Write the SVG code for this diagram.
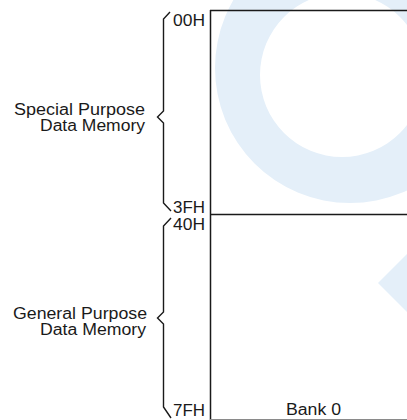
<svg xmlns="http://www.w3.org/2000/svg" width="407" height="420" viewBox="0 0 407 420">
<style>
.t{font-family:"Liberation Sans",Arial,sans-serif;font-size:16px;fill:#1a1a1a}
.ln{stroke:#1a1a1a;stroke-width:1.5;fill:none}
.br{stroke:#1a1a1a;stroke-width:1.4;fill:none;stroke-linejoin:miter}
.wm{fill:#e4eff9}
</style>
<rect x="0" y="0" width="407" height="420" fill="#ffffff"/>
<g id="watermark">
<path class="wm" fill-rule="evenodd" d="M485,68 A135,135 0 1,1 215,68 A135,135 0 1,1 485,68 Z M424,75 A82,82 0 1,0 260,75 A82,82 0 1,0 424,75 Z"/>
<polygon class="wm" points="378,283 407,254 407,312"/>
</g>
<g id="bank0">
<line class="ln" x1="210.5" y1="10" x2="210.5" y2="420"/>
<line class="ln" x1="210" y1="10.5" x2="407" y2="10.5"/>
<line x1="210" y1="419.5" x2="407" y2="419.5" stroke="#8a8a8a" stroke-width="1"/>
<text class="t" x="286" y="415" textLength="55" lengthAdjust="spacingAndGlyphs">Bank 0</text>
</g>
<g id="sfr">
<line class="ln" x1="210" y1="214.5" x2="407" y2="214.5"/>
<text class="t" x="14" y="115" textLength="131" lengthAdjust="spacingAndGlyphs">Special Purpose</text>
<text class="t" x="40" y="131" textLength="105" lengthAdjust="spacingAndGlyphs">Data Memory</text>
</g>
<g id="gpr">
<text class="t" x="13" y="319" textLength="134" lengthAdjust="spacingAndGlyphs">General Purpose</text>
<text class="t" x="40" y="335" textLength="106" lengthAdjust="spacingAndGlyphs">Data Memory</text>
</g>
<g id="addresses">
<text class="t" x="173" y="26" textLength="32" lengthAdjust="spacingAndGlyphs">00H</text>
<text class="t" x="173" y="212.5" textLength="32" lengthAdjust="spacingAndGlyphs">3FH</text>
<text class="t" x="173" y="229.5" textLength="32" lengthAdjust="spacingAndGlyphs">40H</text>
<text class="t" x="173" y="416" textLength="32" lengthAdjust="spacingAndGlyphs">7FH</text>
</g>
<g id="connectors">
<path class="br" d="M170,12 L163.5,19 L163.5,111 L157.5,117 L163.5,123 L163.5,203 L171,211"/>
<path class="br" d="M171,218 L163.5,226 L163.5,312 L157.5,318 L163.5,324 L163.5,407 L171,418"/>
</g>
</svg>
